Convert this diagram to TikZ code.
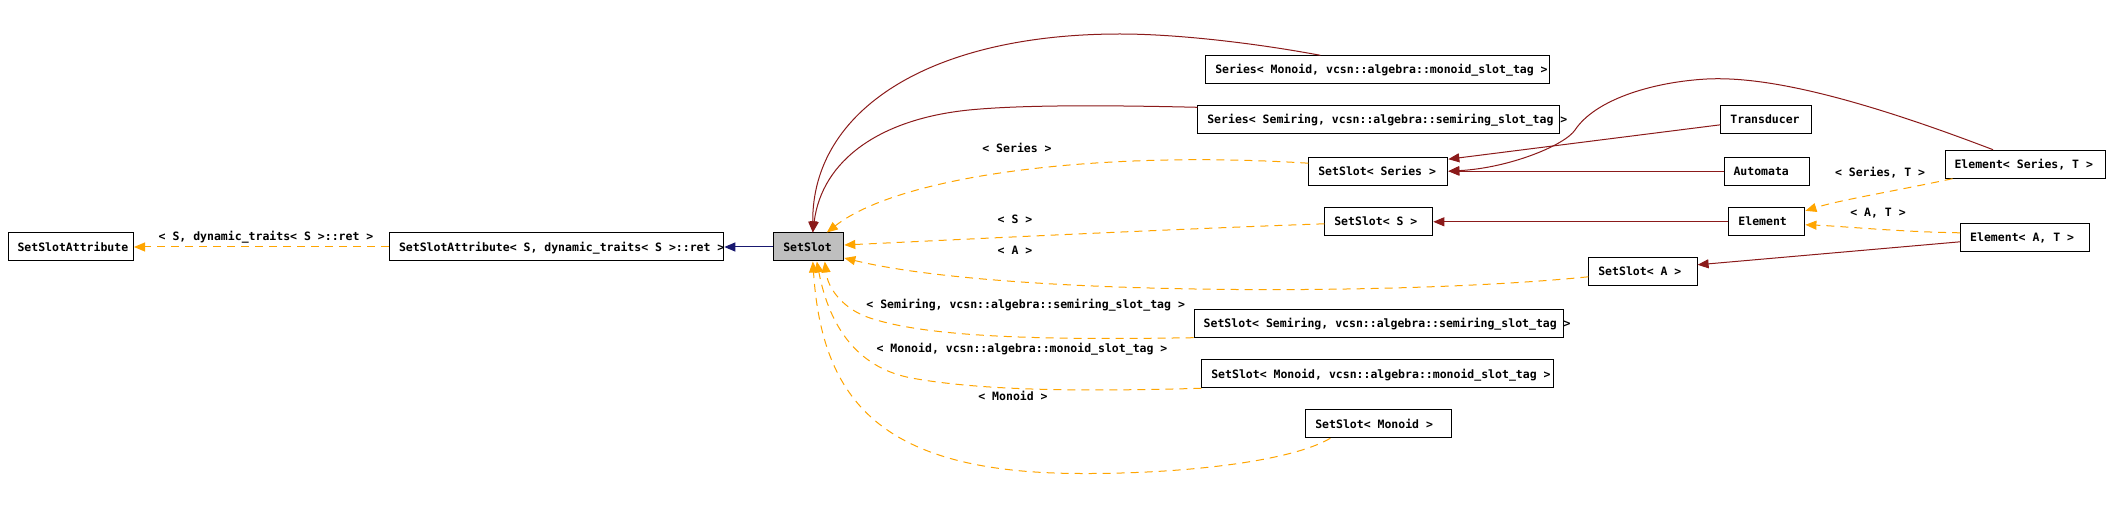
\documentclass[tikz,border=0pt]{standalone}
\usepackage{fontspec}
\setmonofont{DejaVu Sans Mono}
\usetikzlibrary{arrows.meta}
\definecolor{edgered}{HTML}{8B1A1A}
\definecolor{edgeorange}{HTML}{FFA500}
\definecolor{edgeblue}{HTML}{191970}
\definecolor{nodegray}{HTML}{BFBFBF}
\newcommand{\dxfont}{\ttfamily\bfseries\fontsize{11.5}{13}\selectfont}
\newcommand{\clsbox}[2]{\makebox[#1pt][l]{\hspace{9.5pt}#2}}
\begin{document}
\begin{tikzpicture}[x=1pt,y=-1pt,
  cls/.style={draw=black, line width=1pt, inner sep=0pt, minimum height=28pt,
    anchor=north west, font=\dxfont, text height=8.4pt, text depth=0pt},
  lbl/.style={inner sep=0pt, font=\dxfont, text height=8.4pt, text depth=0pt},
  inh/.style={line width=1pt, -{Triangle[length=11pt,width=9pt]}},
  usered/.style={inh, draw=edgered, fill=none},
  blueedge/.style={inh, draw=edgeblue},
  tmpl/.style={inh, draw=edgeorange, dash pattern=on 8pt off 6pt}]
\fill[white] (0,0) rectangle (2109,518);
\useasboundingbox (0,0) rectangle (2109,518);

% nodes
\node[cls] (ssa) at (7.5,232.5) {\clsbox{125.5}{SetSlotAttribute}};
\node[cls] (ssat) at (389,232.5) {\clsbox{334.3}{SetSlotAttribute< S, dynamic\_traits< S >::ret >}};
\node[cls, fill=nodegray] (ss) at (773.3,232.5) {\clsbox{70}{SetSlot}};
\node[cls] (serM) at (1205.3,55.3) {\clsbox{344}{Series< Monoid, vcsn::algebra::monoid\_slot\_tag >}};
\node[cls] (serS) at (1197.3,105.3) {\clsbox{362}{Series< Semiring, vcsn::algebra::semiring\_slot\_tag >}};
\node[cls] (ssSeries) at (1308.3,156.7) {\clsbox{139}{SetSlot< Series >}};
\node[cls] (trans) at (1720.4,105.3) {\clsbox{91}{Transducer}};
\node[cls] (auto) at (1723.5,156.7) {\clsbox{85.8}{Automata}};
\node[cls] (elemST) at (1944.5,149.7) {\clsbox{160}{Element< Series, T >}};
\node[cls] (elem) at (1728.4,207.3) {\clsbox{76}{Element}};
\node[cls] (elemAT) at (1960.2,223.3) {\clsbox{129.2}{Element< A, T >}};
\node[cls] (ssA) at (1588.3,257.3) {\clsbox{108.3}{SetSlot< A >}};
\node[cls] (ssS) at (1324.3,207.3) {\clsbox{108}{SetSlot< S >}};
\node[cls] (ssSemi) at (1193.7,308.7) {\clsbox{369.6}{SetSlot< Semiring, vcsn::algebra::semiring\_slot\_tag >}};
\node[cls] (ssMonT) at (1201.3,359.3) {\clsbox{352}{SetSlot< Monoid, vcsn::algebra::monoid\_slot\_tag >}};
\node[cls] (ssMon) at (1305.3,409.3) {\clsbox{146}{SetSlot< Monoid >}};

% labels
\node[lbl] (l1) at (266,236) {< S, dynamic\_traits< S >::ret >};
\node[lbl] (l2) at (1017,148.3) {< Series >};
\node[lbl] (l3) at (1015,219) {< S >};
\node[lbl] (l4) at (1015,250.7) {< A >};
\node[lbl] (l5) at (1025.7,304) {< Semiring, vcsn::algebra::semiring\_slot\_tag >};
\node[lbl] (l6) at (1022,348.3) {< Monoid, vcsn::algebra::monoid\_slot\_tag >};
\node[lbl] (l7) at (1013,396.7) {< Monoid >};
\node[lbl] (l8) at (1880,172.7) {< Series, T >};
\node[lbl] (l9) at (1878,212.7) {< A, T >};

% edges
\draw[blueedge] (ss.west) -- (ssat.east);
\draw[tmpl] (ssat.west) -- (ssa.east);
\draw[usered] ([xshift=115pt]serM.north west) .. controls (1260,44) and (1180,34) .. (1120,34) .. controls (930,34) and (812,110) .. ([xshift=4pt]ss.north);
\draw[usered] ([yshift=-2pt]serS.north west) .. controls (1100,105) and (1020,105) .. (969,110) .. controls (880,119) and (822,160) .. ([xshift=4pt]ss.north);
\draw[tmpl] ([yshift=8pt]ssSeries.west) .. controls (1100,150) and (900,175) .. ([xshift=18pt]ss.north);
\draw[tmpl] ([yshift=-2pt]ssS.west) .. controls (1150,230) and (950,240) .. ([yshift=2pt]ss.east);
\draw[tmpl] ([yshift=-5pt]ssA.west) .. controls (1400,296) and (1000,296) .. ([yshift=-11pt]ss.east);
\draw[tmpl] (ssSemi.south west) .. controls (1050,340) and (930,338) .. (870,318) .. controls (845,310) and (828,290) .. ([xshift=16pt]ss.south);
\draw[tmpl] (ssMonT.south west) .. controls (1100,391) and (990,392) .. (913,378.3) .. controls (860,369) and (830,330) .. ([xshift=8pt]ss.south);
\draw[tmpl] ([xshift=25pt]ssMon.south west) .. controls (1290,462) and (1180,474) .. (1080,473.5) .. controls (880,473) and (822,400) .. ([xshift=4pt]ss.south);

\draw[usered] ([yshift=-5pt]trans.west) -- ([yshift=12pt]ssSeries.east);
\draw[usered] (auto.west) -- (ssSeries.east);
\draw[usered] ([xshift=-32pt]elemST.north) .. controls (1850,95) and (1760,75) .. (1702,79.3) .. controls (1650,83) and (1595,100) .. (1575,130) .. controls (1565,145) and (1510,168) .. (ssSeries.east);
\draw[usered] (elem.west) -- (ssS.east);
\draw[usered] ([yshift=-4pt]elemAT.west) -- ([yshift=7pt]ssA.east);
\draw[tmpl] ([xshift=8pt]elemST.south west) .. controls (1890,192) and (1840,200) .. ([yshift=11pt]elem.east);
\draw[tmpl] ([yshift=5pt]elemAT.west) .. controls (1900,232) and (1840,226) .. ([yshift=-3pt]elem.east);
\end{tikzpicture}
\end{document}
